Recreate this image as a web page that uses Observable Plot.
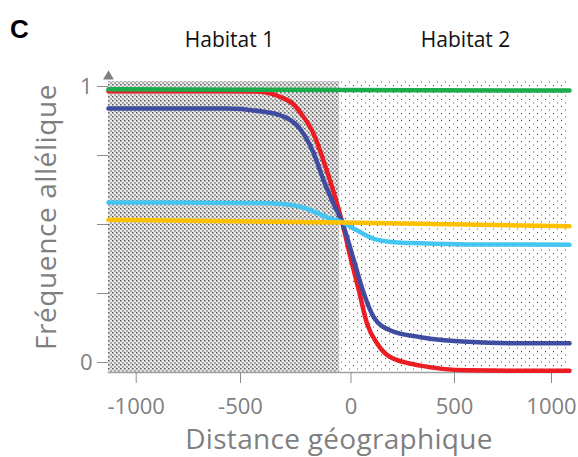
<!DOCTYPE html>
<html>
<head>
<meta charset="utf-8">
<script src="https://cdn.jsdelivr.net/npm/d3@7"></script>
<script src="https://cdn.jsdelivr.net/npm/@observablehq/plot@0.6"></script>
<style>
  body { margin: 0; background: #fff; }
  #wrap { position: relative; width: 578px; height: 457px; }
  #panel { position: absolute; left: 10px; top: 14px; line-height: 1.15; font: bold 26px "Liberation Sans", Arial, sans-serif; color: #000; }
</style>
</head>
<body>
<svg width="0" height="0" style="position:absolute">
  <defs>
    <pattern id="dense" width="4" height="4" patternUnits="userSpaceOnUse">
      <rect width="4" height="4" fill="#e8e8e8"/>
      <rect x="0" y="0" width="2" height="2" fill="#ababab"/>
      <rect x="2" y="2" width="2" height="2" fill="#ababab"/>
      <rect x="0" y="0" width="1" height="1" fill="#555"/>
    </pattern>
    <pattern id="sparse" width="8" height="7" patternUnits="userSpaceOnUse">
      <rect width="8" height="7" fill="#ffffff"/>
      <rect x="1" y="1" width="1" height="1" fill="#333"/>
      <rect x="5" y="4" width="1" height="2" fill="#aaa"/>
    </pattern>
  </defs>
</svg>
<div id="wrap"><div id="panel">C</div></div>
<script>
// ---- data ----
const xTicks = [-1000, -500, 0, 500, 1000];
const yTicks = [0, 0.25, 0.5, 0.75, 1];

const habitatNames = ["Habitat 1", "Habitat 2"];
const habitatStart = [-1133, -50];
const habitatEnd = [-50, 1093];
const habitatLabelX = [-553, 557];

const redDist = [-1133, -562, -410, -319, -260, -229, -170, -124, -79, -40, -2, 38, 78, 127, 191, 336, 567, 840, 1093];
const redFreq = [0.983, 0.983, 0.981, 0.962, 0.935, 0.905, 0.83, 0.73, 0.618, 0.508, 0.38, 0.261, 0.14, 0.068, 0.019, -0.011, -0.028, -0.03, -0.03];

const blueDist = [-1133, -562, -410, -319, -229, -170, -124, -79, -40, 14, 62, 110, 191, 336, 567, 840, 1093];
const blueFreq = [0.92, 0.92, 0.91, 0.895, 0.845, 0.76, 0.66, 0.575, 0.508, 0.37, 0.25, 0.164, 0.116, 0.092, 0.075, 0.07, 0.07];

const lightDist = [-1133, -410, -319, -198, -108, -40, 30, 110, 207, 336, 567, 1093];
const lightFreq = [0.58, 0.578, 0.575, 0.557, 0.526, 0.508, 0.478, 0.448, 0.436, 0.432, 0.428, 0.427];

const yellowDist = [-1133, -40, 1093];
const yellowFreq = [0.517, 0.507, 0.494];

const greenDist = [-1133, 1093];
const greenFreq = [0.99, 0.985];

const yTitle = "Fréquence allélique";
const xTitle = "Distance géographique";

// ---- build tables ----
const pts = (xs, ys) => xs.map((x, i) => ({x, y: ys[i]}));
const regions = habitatNames.map((name, i) => ({name, x1: habitatStart[i], x2: habitatEnd[i], pat: i === 0 ? "url(#dense)" : "url(#sparse)"}));
const labels = habitatNames.map((name, i) => ({name, x: habitatLabelX[i]}));

const lineOpts = {x: "x", y: "y", curve: "monotone-x", strokeWidth: 4.5};

const chart = Plot.plot({
  width: 578,
  height: 457,
  marginLeft: 108,
  marginRight: 9,
  marginTop: 81,
  marginBottom: 85,
  style: {fontFamily: "'Open Sans', sans-serif", fontSize: "22px", color: "#7f7f7f", background: "transparent"},
  x: {type: "linear", domain: xTicks, range: [135.7, 240, 350.5, 454, 551]},
  y: {domain: [-0.036, 1.018]},
  marks: [
    Plot.rect(regions, {x1: "x1", x2: "x2", fill: "pat"}),
    Plot.frame({anchor: "bottom", stroke: "#a0a0a0", strokeWidth: 1.5}),
    Plot.axisX({ticks: xTicks, tickSize: 11, tickPadding: 15, tickFormat: d => String(d), label: null, fontSize: 22, stroke: "#8c8c8c"}),
    Plot.axisY({ticks: yTicks, tickSize: 11, tickPadding: 5, tickFormat: d => (d === 0 || d === 1) ? String(d) : "", label: null, fontSize: 22, stroke: "#8c8c8c"}),
    Plot.line(pts(redDist, redFreq), {...lineOpts, stroke: "#ec1c24"}),
    Plot.line(pts(blueDist, blueFreq), {...lineOpts, stroke: "#3f4ca0"}),
    Plot.line(pts(lightDist, lightFreq), {...lineOpts, stroke: "#45c6f2"}),
    Plot.line(pts(yellowDist, yellowFreq), {...lineOpts, stroke: "#ffc000"}),
    Plot.line(pts(greenDist, greenFreq), {...lineOpts, stroke: "#1aab4b"}),
    Plot.dot([0], {frameAnchor: "top-left", symbol: "triangle", r: 4, fill: "#808080", stroke: "none", dy: -5}),
    Plot.text(labels, {x: "x", text: "name", frameAnchor: "top", lineAnchor: "bottom", dy: -35, fontSize: 21, fill: "#111"}),
    Plot.text([yTitle], {frameAnchor: "left", textAnchor: "middle", rotate: -90, dx: -61, dy: -10, fontSize: 28, fill: "#7f7f7f"}),
    Plot.text([xTitle], {frameAnchor: "bottom", textAnchor: "middle", lineAnchor: "top", dy: 57, fontSize: 28, fill: "#7f7f7f"})
  ]
});
d3.select(chart).selectAll("text").filter(function() { return this.textContent === yTitle; }).style("letter-spacing", "0.6px");
d3.select(chart).selectAll("text").filter(function() { return this.textContent === xTitle; }).style("letter-spacing", "0.3px");
chart.style.position = "absolute";
chart.style.left = "0";
chart.style.top = "0";
document.getElementById("wrap").prepend(chart);
</script>
</body>
</html>
